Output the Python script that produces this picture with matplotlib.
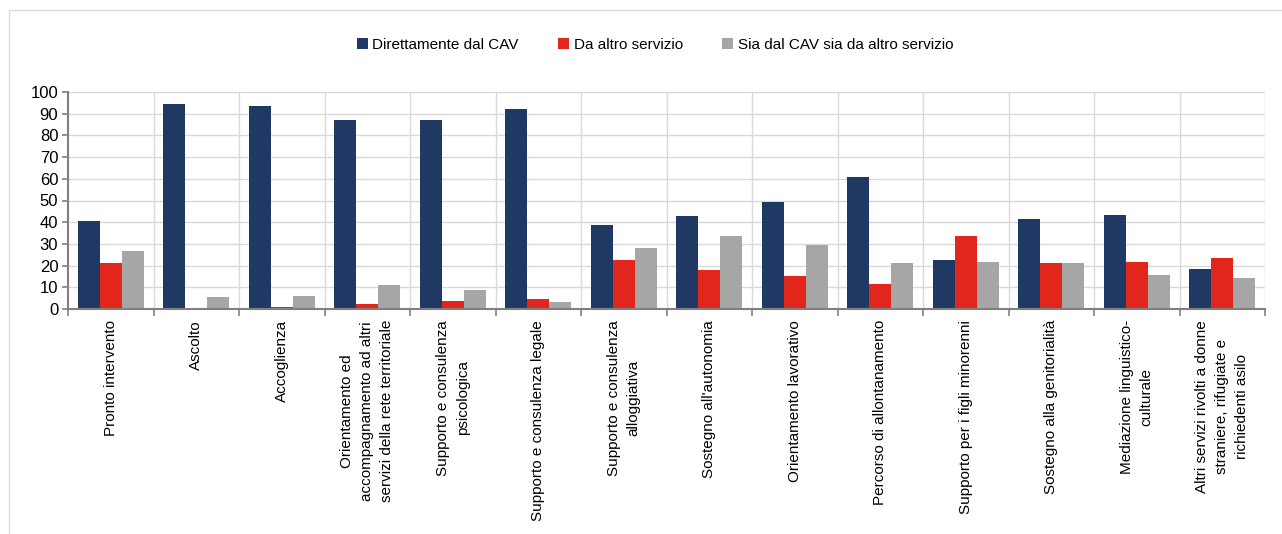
import matplotlib
matplotlib.use("Agg")
import matplotlib.pyplot as plt
import numpy as np
from matplotlib.patches import Rectangle

plt.rcParams['font.family'] = ['Liberation Sans', 'DejaVu Sans']

categories = [
    "Pronto intervento",
    "Ascolto",
    "Accoglienza",
    "Orientamento ed\naccompagnamento ad altri\nservizi della rete territoriale",
    "Supporto e consulenza\npsicologica",
    "Supporto e consulenza legale",
    "Supporto e consulenza\nalloggiativa",
    "Sostegno all'autonomia",
    "Orientamento lavorativo",
    "Percorso di allontanamento",
    "Supporto per i figli minorenni",
    "Sostegno alla genitorialità",
    "Mediazione linguistico-\nculturale",
    "Altri servizi rivolti a donne\nstraniere, rifugiate e\nrichiedenti asilo",
]
series_names = ["Direttamente dal CAV", "Da altro servizio", "Sia dal CAV sia da altro servizio"]
direttamente = [40.6, 94.3, 93.4, 86.9, 86.9, 92.2, 38.5, 42.9, 49.1, 60.9, 22.8, 41.4, 43.1, 18.3]
altro_servizio = [21.4, 0.0, 1.0, 2.1, 3.7, 4.7, 22.6, 18.0, 15.1, 11.6, 33.8, 21.4, 21.7, 23.7]
entrambi = [26.5, 5.7, 6.0, 11.2, 8.8, 3.0, 28.3, 33.8, 29.7, 21.4, 21.8, 21.1, 15.5, 14.3]
yticks = list(range(0, 101, 10))

colors = ["#203864", "#e3261b", "#a6a6a6"]

fig = plt.figure(figsize=(12.82, 5.34), dpi=100)
ax = fig.add_axes([68/1282, 1-309/534, (1265-68)/1282, (309-92)/534])

# outer frame
fig.patches.append(Rectangle((9/1282, -0.05), 1.1, 1-10/534+0.05, transform=fig.transFigure,
                             fill=False, edgecolor="#d9d9d9", linewidth=1.0, zorder=0))

x = np.arange(len(categories))
w = 0.257
for i, (vals, name, c) in enumerate(zip([direttamente, altro_servizio, entrambi], series_names, colors)):
    ax.bar(x + (i - 1) * w, vals, width=w, color=c, label=name, linewidth=0, zorder=3)

ax.set_xlim(-0.5, len(categories) - 0.5)
ax.set_ylim(0, 100)
ax.set_yticks(yticks)
ax.set_yticklabels([str(t) for t in yticks], fontsize=12, color="#000000")
ax.yaxis.grid(True, color="#d9d9d9", linewidth=1.0, zorder=0)

bounds = np.arange(len(categories) + 1) - 0.5
ax.set_xticks(bounds)
ax.set_xticklabels([])
ax.tick_params(axis='x', length=5, width=1.2, color="#808080", direction='out')
ax.tick_params(axis='y', length=4, width=1.2, color="#808080", direction='out', pad=3)
for b in bounds[1:]:
    ax.axvline(b, color="#d9d9d9", linewidth=1.0, zorder=0)

for s in ['top', 'right']:
    ax.spines[s].set_visible(False)
for s in ['left', 'bottom']:
    ax.spines[s].set_color("#808080")
    ax.spines[s].set_linewidth(1.5)
    ax.spines[s].set_zorder(4)

for xi, lab in zip(x, categories):
    ax.annotate(lab, xy=(xi, 0), xycoords='data', xytext=(0, -8), textcoords='offset points',
                rotation=90, ha='center', va='top', multialignment='center',
                fontsize=11, linespacing=1.55, annotation_clip=False)

leg = fig.legend(loc='center', bbox_to_anchor=(655/1282, 1-45/534), ncol=3, frameon=False,
                 fontsize=11, handlelength=0.7, handleheight=0.7, handletextpad=0.3,
                 columnspacing=2.6)

fig.savefig("out.png", dpi=100, facecolor="white")
